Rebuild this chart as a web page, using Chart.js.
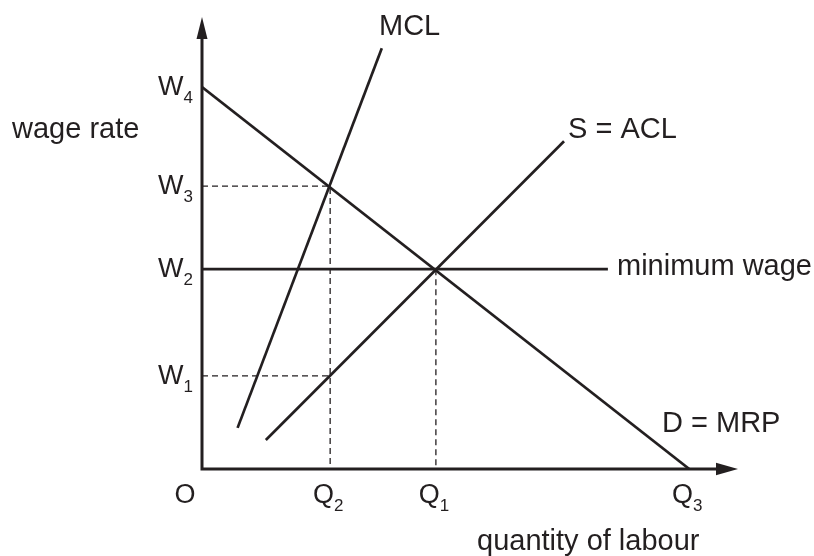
<!DOCTYPE html>
<html><head><meta charset="utf-8">
<script src="https://cdn.jsdelivr.net/npm/chart.js@4/dist/chart.umd.min.js"></script>
<style>html,body{margin:0;padding:0;background:#fff;}canvas{display:block}</style>
</head><body>
<canvas id="c" width="814" height="556"></canvas>
<script>
// ---- data ----
const wageTickMain = ["W", "W", "W", "W"];
const wageTickSub = ["1", "2", "3", "4"];
const wageLevels = [20.6, 44.2, 62.6, 84.5];
const qTickMain = ["Q", "Q", "Q"];
const qTickSub = ["2", "1", "3"];
const quantityLevels = [26.3, 48.0, 100];

const demandMRP = [{x: 0, y: 84.5}, {x: 100, y: 0}];
const supplyACL = [{x: 13.1, y: 6.4}, {x: 74.3, y: 72.5}];
const marginalCostMCL = [{x: 7.3, y: 9.1}, {x: 36.9, y: 93.1}];
const minimumWage = [{x: 0, y: 44.2}, {x: 83.3, y: 44.2}];
const guideW3Q2 = [{x: 0, y: 62.6}, {x: 26.3, y: 62.6}, {x: 26.3, y: 0}];
const guideW1 = [{x: 0, y: 20.6}, {x: 26.3, y: 20.6}];
const guideQ1 = [{x: 48.0, y: 44.2}, {x: 48.0, y: 0}];

const curveNames = ["MCL", "S = ACL", "minimum wage", "D = MRP"];
const axisTitles = ["wage rate", "quantity of labour", "O"];

const INK = "#231f20";
const FONT = "'Liberation Sans', Arial, Helvetica, sans-serif";

function solid(data) {
  return {data, showLine: true, borderColor: INK, borderWidth: 2.7, pointRadius: 0, fill: false, tension: 0};
}
function dashed(data) {
  return {data, showLine: true, borderColor: INK, borderWidth: 1.3, borderDash: [6, 4], pointRadius: 0, fill: false, tension: 0};
}

const diagramPlugin = {
  id: "diagram",
  afterDatasetsDraw(chart) {
    const ctx = chart.ctx;
    const xs = chart.scales.x, ys = chart.scales.y;
    const x0 = xs.getPixelForValue(0), y0 = ys.getPixelForValue(0);
    const xEnd = xs.getPixelForValue(xs.max), yEnd = ys.getPixelForValue(ys.max);
    ctx.save();
    ctx.strokeStyle = INK; ctx.fillStyle = INK;
    ctx.lineWidth = 3; ctx.lineCap = "butt";
    // axes
    ctx.beginPath();
    ctx.moveTo(x0, yEnd + 18); ctx.lineTo(x0, y0 + 1.5);
    ctx.moveTo(x0 - 1.5, y0); ctx.lineTo(xEnd - 18, y0);
    ctx.stroke();
    // arrow heads
    ctx.beginPath();
    ctx.moveTo(x0, yEnd); ctx.lineTo(x0 - 5.5, yEnd + 22); ctx.lineTo(x0 + 5.5, yEnd + 22); ctx.closePath(); ctx.fill();
    ctx.beginPath();
    ctx.moveTo(xEnd, y0); ctx.lineTo(xEnd - 22, y0 - 6.3); ctx.lineTo(xEnd - 22, y0 + 6.3); ctx.closePath(); ctx.fill();

    ctx.textBaseline = "alphabetic";
    // wage ticks with subscripts
    const mainF = "27px " + FONT, subF = "17px " + FONT;
    wageLevels.forEach((v, i) => {
      const py = ys.getPixelForValue(v);
      ctx.font = subF; const sw = ctx.measureText(wageTickSub[i]).width;
      ctx.font = mainF; const mw = ctx.measureText(wageTickMain[i]).width;
      const right = x0 - 9;
      ctx.textAlign = "left";
      ctx.font = mainF; ctx.fillText(wageTickMain[i], right - sw - mw, py + 8);
      ctx.font = subF; ctx.fillText(wageTickSub[i], right - sw, py + 16);
    });
    // quantity ticks
    quantityLevels.forEach((v, i) => {
      const px = xs.getPixelForValue(v);
      ctx.font = subF; const sw = ctx.measureText(qTickSub[i]).width;
      ctx.font = mainF; const mw = ctx.measureText(qTickMain[i]).width;
      const left = px - (sw + mw) / 2 - 2;
      ctx.textAlign = "left";
      ctx.font = mainF; ctx.fillText(qTickMain[i], left, y0 + 34);
      ctx.font = subF; ctx.fillText(qTickSub[i], left + mw, y0 + 42);
    });
    // origin
    ctx.font = mainF; ctx.textAlign = "center";
    ctx.fillText(axisTitles[2], x0 - 17, y0 + 34);

    // curve names and axis titles
    ctx.font = "29px " + FONT; ctx.textAlign = "left";
    ctx.fillText(curveNames[0], 379, 35);
    ctx.fillText(curveNames[1], 568, 138);
    ctx.fillText(curveNames[2], 617, 275);
    ctx.fillText(curveNames[3], 662, 432);
    ctx.fillText(axisTitles[0], 12, 138);
    ctx.fillText(axisTitles[1], 477, 550);
    ctx.restore();
  }
};

new Chart(document.getElementById("c"), {
  type: "scatter",
  data: {
    datasets: [
      dashed(guideW3Q2), dashed(guideW1), dashed(guideQ1),
      solid(demandMRP), solid(supplyACL), solid(marginalCostMCL), solid(minimumWage)
    ]
  },
  options: {
    responsive: false,
    animation: false,
    devicePixelRatio: 1,
    layout: {padding: {left: 202, right: 76, top: 17, bottom: 87}},
    plugins: {legend: {display: false}, tooltip: {enabled: false}, title: {display: false}},
    scales: {
      x: {type: "linear", min: 0, max: 110, display: false},
      y: {type: "linear", min: 0, max: 100, display: false}
    },
    elements: {line: {borderCapStyle: "butt"}}
  },
  plugins: [diagramPlugin]
});
</script>
</body></html>
